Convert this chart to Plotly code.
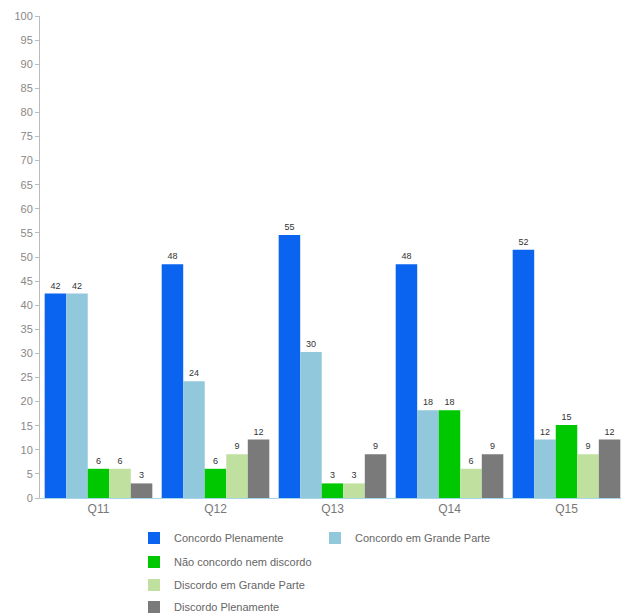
import plotly.graph_objects as go

categories = ["Q11", "Q12", "Q13", "Q14", "Q15"]
series_names = [
    "Concordo Plenamente",
    "Concordo em Grande Parte",
    "Não concordo nem discordo",
    "Discordo em Grande Parte",
    "Discordo Plenamente",
]
concordo_plenamente = [42.42, 48.48, 54.55, 48.48, 51.52]
concordo_grande_parte = [42.42, 24.24, 30.30, 18.18, 12.12]
nao_concordo_nem_discordo = [6.06, 6.06, 3.03, 18.18, 15.15]
discordo_grande_parte = [6.06, 9.09, 3.03, 6.06, 9.09]
discordo_plenamente = [3.03, 12.12, 9.09, 9.09, 12.12]
y_ticks = list(range(0, 101, 5))

series_values = [
    concordo_plenamente,
    concordo_grande_parte,
    nao_concordo_nem_discordo,
    discordo_grande_parte,
    discordo_plenamente,
]
colors = ["#0a64f0", "#92c8dc", "#00c800", "#c0e0a0", "#7a7a7a"]
legend_ids = ["legend", "legend", "legend2", "legend3", "legend4"]

fig = go.Figure()
for name, vals, col, lg in zip(series_names, series_values, colors, legend_ids):
    fig.add_trace(go.Bar(
        x=categories, y=vals, name=name,
        marker=dict(color=col, line=dict(width=0)),
        texttemplate="%{y:.0f}", textposition="outside",
        textfont=dict(size=9, color="#333333", family="Liberation Sans, Arial, sans-serif"),
        cliponaxis=False,
        legend=lg,
    ))

W, H = 621, 615
ml, mr, mt, mb = 40, 0, 16, 117
pw = W - ml - mr
ph = H - mt - mb

def px_x(x):
    return (x - ml) / pw

def px_y(y):
    return (H - mb - y) / ph

legend_font = dict(size=11, color="#666666", family="Liberation Sans, Arial, sans-serif")
legend_common = dict(orientation="h", xanchor="left", yanchor="middle",
                     font=legend_font, bgcolor="rgba(0,0,0,0)",
                     itemclick=False, itemdoubleclick=False,
                     tracegroupgap=0)

lx = px_x(134)
fig.update_layout(
    width=W, height=H,
    margin=dict(l=ml, r=mr, t=mt, b=mb, pad=0, autoexpand=False),
    paper_bgcolor="white", plot_bgcolor="white",
    barmode="group", bargap=0.08, bargroupgap=0,
    font=dict(family="Liberation Sans, Arial, sans-serif", color="#777777"),
    showlegend=True,
    xaxis=dict(
        range=[-0.5, -0.5 + pw / 117.0],
        showline=True, linecolor="#a8d4ec", linewidth=1,
        showgrid=False, ticks="", tickfont=dict(size=12, color="#777777"),
        fixedrange=True, automargin=False,
    ),
    yaxis=dict(
        range=[0, 100], tickvals=y_ticks,
        showline=True, linecolor="#bbbbbb", linewidth=1,
        ticks="outside", ticklen=4, tickcolor="#bbbbbb",
        showgrid=False, zeroline=False,
        tickfont=dict(size=11, color="#888888"),
        fixedrange=True, automargin=False,
    ),
    legend=dict(x=lx, y=px_y(538), entrywidth=136, **legend_common),
    legend2=dict(x=lx, y=px_y(562), **legend_common),
    legend3=dict(x=lx, y=px_y(585), **legend_common),
    legend4=dict(x=lx, y=px_y(607), **legend_common),
)

fig.write_html(
    "out.html",
    config={"displayModeBar": False},
    post_script="document.body.style.margin='0';document.body.style.overflow='hidden';",
)
